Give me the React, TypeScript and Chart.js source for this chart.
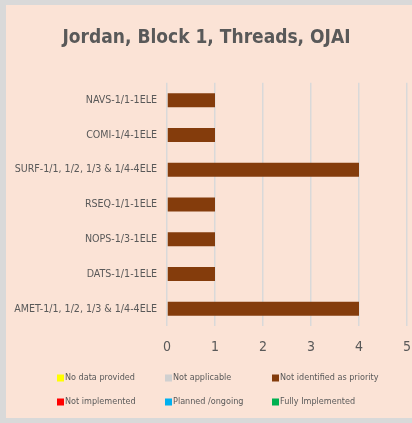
import React, { useEffect, useRef } from "react";
import { Chart, registerables } from "chart.js";

Chart.register(...registerables);

const titleText = "Jordan, Block 1, Threads, OJAI";
const categories = [
  "NAVS-1/1-1ELE",
  "COMI-1/4-1ELE",
  "SURF-1/1, 1/2, 1/3 & 1/4-4ELE",
  "RSEQ-1/1-1ELE",
  "NOPS-1/3-1ELE",
  "DATS-1/1-1ELE",
  "AMET-1/1, 1/2, 1/3 & 1/4-4ELE",
];
const seriesNames = [
  "No data provided",
  "Not applicable",
  "Not identified as priority",
  "Not implemented",
  "Planned /ongoing",
  "Fully Implemented",
];
const seriesColors = ["#FFFF00", "#D0D0D0", "#843C0C", "#FF0000", "#00B0F0", "#00B050"];
const noData = [0, 0, 0, 0, 0, 0, 0];
const notApplicable = [0, 0, 0, 0, 0, 0, 0];
const notPriority = [1, 1, 4, 1, 1, 1, 4];
const notImplemented = [0, 0, 0, 0, 0, 0, 0];
const planned = [0, 0, 0, 0, 0, 0, 0];
const fully = [0, 0, 0, 0, 0, 0, 0];
const xTicks = [0, 1, 2, 3, 4, 5];

const FONT = "'Liberation Sans Narrow', 'Arial Narrow', 'DejaVu Sans Condensed', sans-serif";
const TEXT = "#595959";

const gridLegend = {
  id: "gridLegend",
  afterDraw(chart: any) {
    const ctx = chart.ctx;
    const cols = [51, 159, 266];
    const rows = [373, 397];
    ctx.save();
    ctx.font = `9px ${FONT}`;
    ctx.textBaseline = "middle";
    ctx.textAlign = "left";
    chart.data.datasets.forEach((ds: any, i: number) => {
      const x = cols[i % 3];
      const y = rows[Math.floor(i / 3)];
      ctx.fillStyle = ds.backgroundColor;
      ctx.fillRect(x, y - 3.5, 7, 7);
      ctx.fillStyle = TEXT;
      ctx.fillText(ds.label, x + 8, y);
    });
    ctx.restore();
  },
};

export default function App() {
  const ref = useRef<HTMLCanvasElement>(null);
  useEffect(() => {
    const values = [noData, notApplicable, notPriority, notImplemented, planned, fully];
    const chart = new Chart(ref.current!, {
      type: "bar",
      data: {
        labels: categories,
        datasets: seriesNames.map((name, i) => ({
          label: name,
          data: values[i],
          backgroundColor: seriesColors[i],
          borderWidth: 0,
          categoryPercentage: 1,
          barPercentage: 0.4,
        })),
      },
      options: {
        indexAxis: "y",
        animation: false,
        responsive: false,
        maintainAspectRatio: false,
        layout: { padding: { top: 0, left: 0, right: 5, bottom: 62 } },
        plugins: {
          legend: { display: false },
          tooltip: { enabled: false },
          title: {
            display: true,
            text: titleText,
            color: TEXT,
            font: { family: FONT, size: 19, weight: "bold" },
            padding: { top: 22, bottom: 33 },
          },
        },
        scales: {
          x: {
            stacked: true,
            min: 0,
            max: 5,
            afterBuildTicks: (s: any) => {
              s.ticks = xTicks.map((v) => ({ value: v }));
            },
            ticks: { color: TEXT, font: { family: FONT, size: 14 }, padding: 0 },
            grid: { color: "#D9D9D9", lineWidth: 1.5, drawTicks: true, tickLength: 13, tickColor: "rgba(0,0,0,0)" },
            border: { display: false },
          },
          y: {
            stacked: true,
            afterFit: (s: any) => {
              s.width = 161;
            },
            ticks: { color: TEXT, font: { family: FONT, size: 10.6 }, padding: 10 },
            grid: { display: false, drawTicks: false },
            border: { display: false },
          },
        },
      },
      plugins: [gridLegend],
    });
    return () => chart.destroy();
  }, []);
  return (
    <div style={{ background: "#D9D9D9", padding: "5px 0 5px 6px", width: 406, margin: 0 }}>
      <canvas ref={ref} width={406} height={413} style={{ display: "block", background: "#FBE3D6" }} />
    </div>
  );
}

if (typeof document !== "undefined") {
  document.body.style.margin = "0";
}
